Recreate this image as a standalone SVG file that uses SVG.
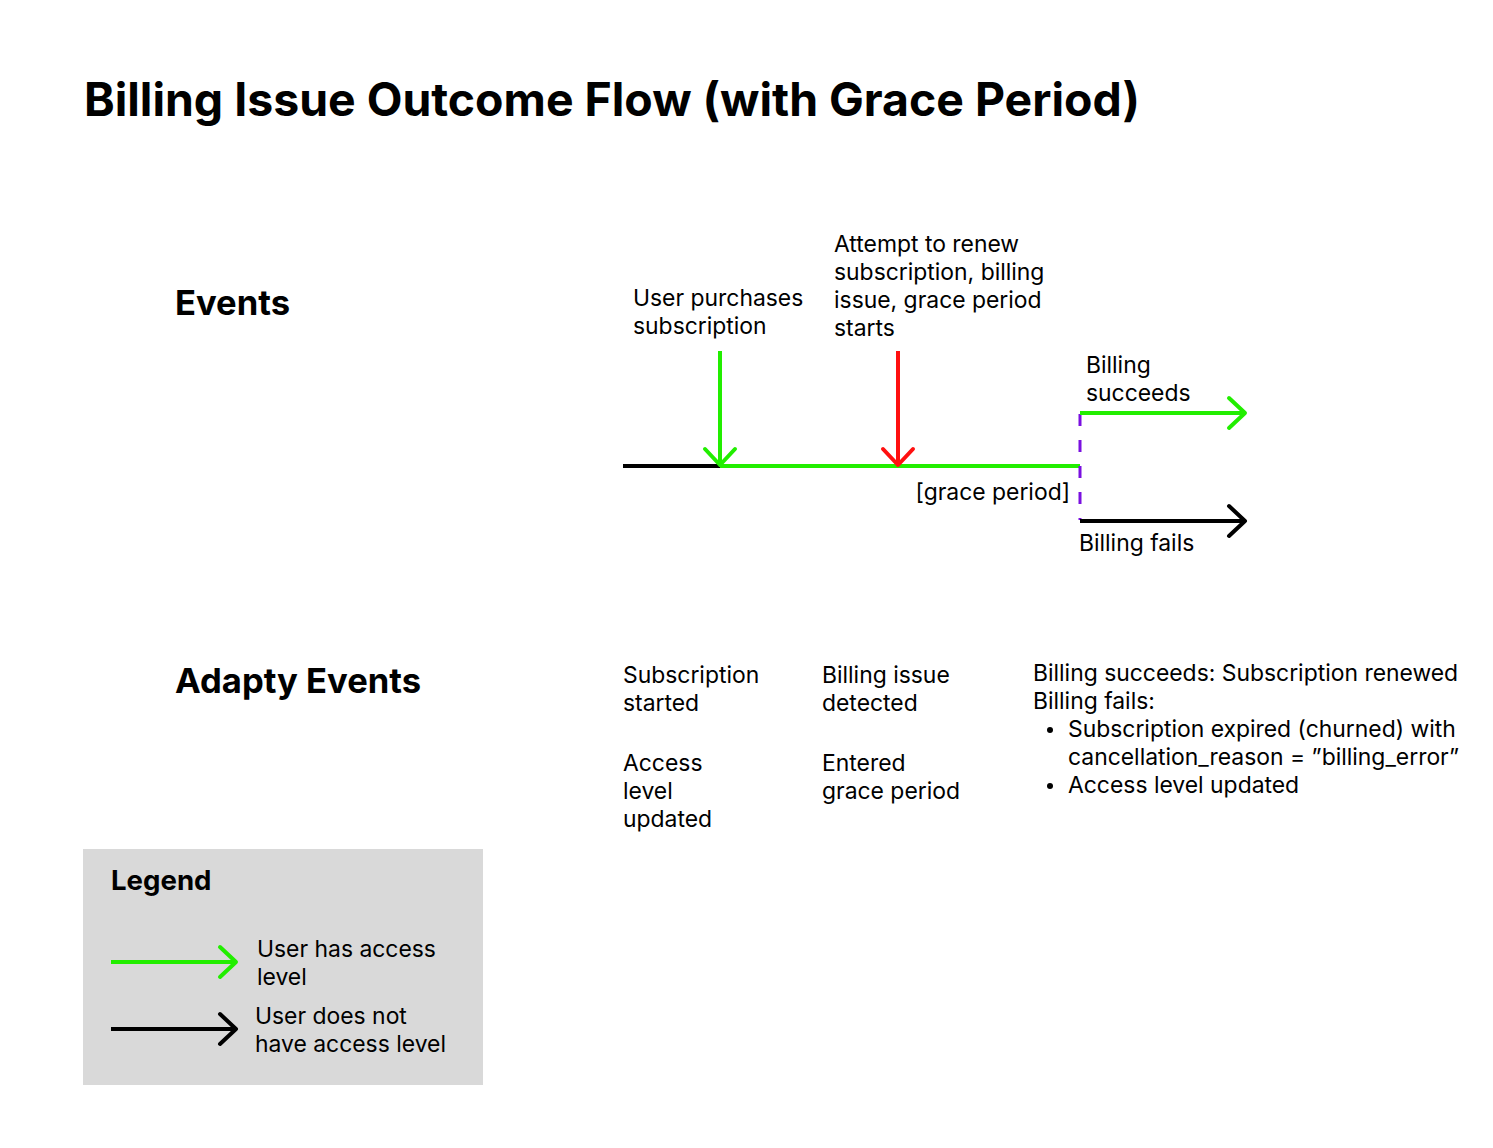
<svg xmlns="http://www.w3.org/2000/svg" width="1493" height="1148" viewBox="0 0 1493 1148">
<defs>
<style>
text{font-family:Inter,"Noto Sans","Liberation Sans",sans-serif;fill:#000}
.t{font-size:22.9px}
.h{font-weight:700}
.ln{fill:none;stroke-width:4}
.g{stroke:#22ee00}
.k{stroke:#000}
.r{stroke:#ff1010}
</style>
<marker id="ag" markerUnits="userSpaceOnUse" viewBox="0 0 22 36" refX="19" refY="18" markerWidth="22" markerHeight="36" orient="auto"><path d="M3,3 L19,18 L3,33" fill="none" stroke="#22ee00" stroke-width="4" stroke-linecap="round" stroke-linejoin="round"/></marker>
<marker id="ak" markerUnits="userSpaceOnUse" viewBox="0 0 22 36" refX="19" refY="18" markerWidth="22" markerHeight="36" orient="auto"><path d="M3,3 L19,18 L3,33" fill="none" stroke="#000" stroke-width="4" stroke-linecap="round" stroke-linejoin="round"/></marker>
<marker id="ar" markerUnits="userSpaceOnUse" viewBox="0 0 22 36" refX="19" refY="18" markerWidth="22" markerHeight="36" orient="auto"><path d="M3,3 L19,18 L3,33" fill="none" stroke="#ff1010" stroke-width="4" stroke-linecap="round" stroke-linejoin="round"/></marker>
</defs>
<rect width="1493" height="1148" fill="#fff"/>
<text id="title" class="h" x="84" y="116" font-size="46.4">Billing Issue Outcome Flow (with Grace Period)</text>
<text id="events-h" class="h" x="175" y="315" font-size="34.6">Events</text>
<text id="adapty-h" class="h" x="175" y="693" font-size="34.6">Adapty Events</text>

<g id="connectors">
<line class="ln k" x1="623" y1="466" x2="720" y2="466"/>
<line class="ln g" x1="720" y1="466" x2="1080" y2="466"/>
<line class="ln g" x1="720" y1="351" x2="720" y2="465" marker-end="url(#ag)"/>
<line class="ln r" x1="898" y1="351" x2="898" y2="465" marker-end="url(#ar)"/>
<line x1="1080" y1="414" x2="1080" y2="520" stroke="#7a10e0" stroke-width="3" stroke-dasharray="12,14"/>
<line class="ln g" x1="1080" y1="413" x2="1245" y2="413" marker-end="url(#ag)"/>
<line class="ln k" x1="1080" y1="521" x2="1245" y2="521" marker-end="url(#ak)"/>
</g>

<g id="ev-purchase"><text class="t" x="633" y="306">User purchases</text><text class="t" x="633" y="334">subscription</text></g>
<g id="ev-attempt"><text class="t" x="834" y="252">Attempt to renew</text><text class="t" x="834" y="280">subscription, billing</text><text class="t" x="834" y="308">issue, grace period</text><text class="t" x="834" y="336">starts</text></g>
<g id="ev-success"><text class="t" x="1086" y="373">Billing</text><text class="t" x="1086" y="401">succeeds</text></g>
<g id="ev-grace"><text class="t" x="1070" y="500" text-anchor="end">[grace period]</text></g>
<g id="ev-fails"><text class="t" x="1079" y="551">Billing fails</text></g>

<g id="ad-started"><text class="t" x="623" y="683">Subscription</text><text class="t" x="623" y="711">started</text><text class="t" x="623" y="771">Access</text><text class="t" x="623" y="799">level</text><text class="t" x="623" y="827">updated</text></g>
<g id="ad-issue"><text class="t" x="822" y="683">Billing issue</text><text class="t" x="822" y="711">detected</text><text class="t" x="822" y="771">Entered</text><text class="t" x="822" y="799">grace period</text></g>
<g id="ad-outcome"><text class="t" x="1033" y="681">Billing succeeds: Subscription renewed</text><text class="t" x="1033" y="709">Billing fails:</text>
<circle cx="1050" cy="730" r="3"/><circle cx="1050" cy="786" r="3"/>
<text class="t" x="1068" y="737">Subscription expired (churned) with</text><text class="t" x="1068" y="765">cancellation_reason = ”billing_error”</text><text class="t" x="1068" y="793">Access level updated</text></g>

<g id="legend">
<rect x="83" y="849" width="400" height="236" fill="#d9d9d9"/>
<text class="h" x="111" y="890" font-size="27.6">Legend</text>
<line class="ln g" x1="111" y1="962" x2="236" y2="962" marker-end="url(#ag)"/>
<line class="ln k" x1="111" y1="1029" x2="236" y2="1029" marker-end="url(#ak)"/>
<text class="t" x="257" y="957">User has access</text><text class="t" x="257" y="985">level</text>
<text class="t" x="255" y="1024">User does not</text><text class="t" x="255" y="1052">have access level</text>
</g>
</svg>
